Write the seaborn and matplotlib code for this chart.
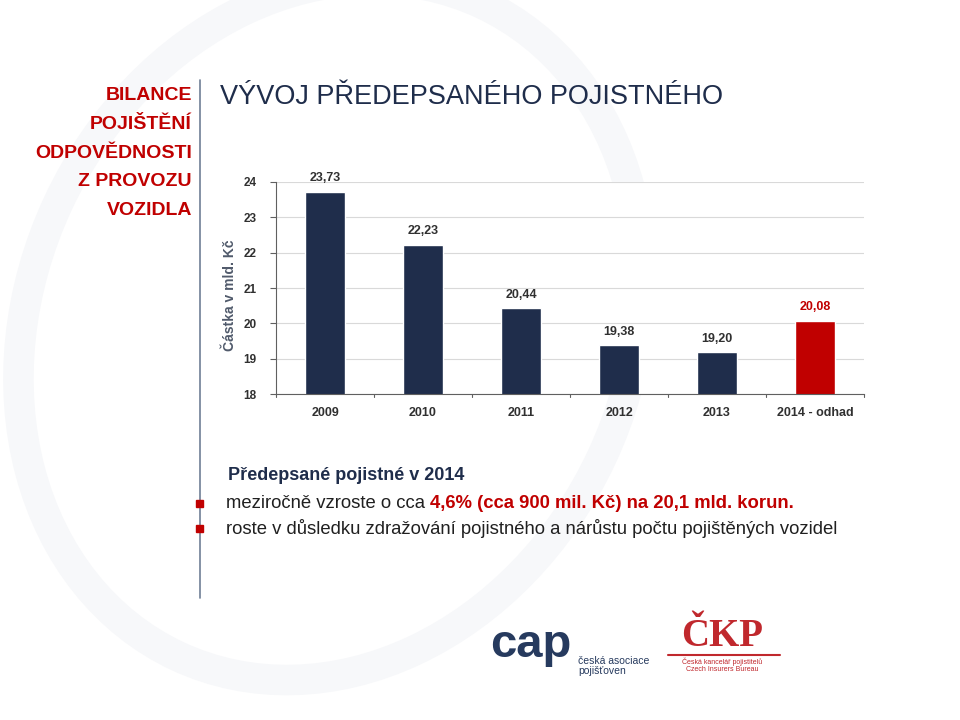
import matplotlib
matplotlib.use("Agg")
import matplotlib.pyplot as plt
import seaborn as sns
import pandas as pd
from matplotlib.patches import Rectangle, Ellipse

categories = ["2009", "2010", "2011", "2012", "2013", "2014 - odhad"]
values = [23.73, 22.23, 20.44, 19.38, 19.20, 20.08]
value_labels = ["23,73", "22,23", "20,44", "19,38", "19,20", "20,08"]
bar_colors = ["#1f2d4b", "#1f2d4b", "#1f2d4b", "#1f2d4b", "#1f2d4b", "#c00000"]
y_ticks = [18, 19, 20, 21, 22, 23, 24]

sns.set_theme(style="white")
plt.rcParams['font.family'] = ['Liberation Sans', 'DejaVu Sans']

NAVY = "#1f2d4b"
RED = "#c00000"

fig = plt.figure(figsize=(9.6, 7.2), dpi=100)
W, H = 960, 720

def fx(x):
    return x / W

def fy(y):
    return 1 - y / H

# faint background swoosh
bg = fig.add_axes([0, 0, 1, 1], zorder=-5)
bg.set_xlim(0, W); bg.set_ylim(H, 0); bg.axis("off")
bg.add_patch(Ellipse((330, 330), 600, 720, angle=25, fill=False, lw=22, ec="#f7f8fa", zorder=-5))
bg.plot([200, 200], [80, 598], color="#6f7f96", lw=1.2, zorder=2)
bg.add_patch(Rectangle((196, 500), 7, 7, color=RED, zorder=4))
bg.add_patch(Rectangle((196, 525), 7, 7, color=RED, zorder=4))

# left red title
left_lines = ["BILANCE", "POJIŠTĚNÍ", "ODPOVĚDNOSTI", "Z PROVOZU", "VOZIDLA"]
for i, t in enumerate(left_lines):
    fig.text(fx(192), fy(96 + i * 28.5), t, ha="right", va="center", color=RED,
             fontsize=14, fontweight="bold")

fig.text(fx(220), fy(97), "VÝVOJ PŘEDEPSANÉHO POJISTNÉHO", ha="left", va="center",
         color=NAVY, fontsize=19.5)

# chart
ax = fig.add_axes([fx(276), fy(394), fx(864 - 276), (394 - 182) / H])
df = pd.DataFrame({"rok": categories, "hodnota": values})
sns.barplot(data=df, x="rok", y="hodnota", hue="rok", palette=bar_colors,
            legend=False, width=0.4, ax=ax, saturation=1)
ax.set_ylim(18, 24)
ax.set_xlim(-0.5, len(categories) - 0.5)
ax.set_yticks(y_ticks)
ax.set_yticklabels([str(v) for v in y_ticks], fontsize=8.5, fontweight="bold", color="#303030")
ax.set_xticks(range(len(categories)))
ax.set_xticklabels(categories, fontsize=9, fontweight="bold", color="#303030")
ax.tick_params(axis="x", length=0, pad=9)
ax.tick_params(axis="y", length=4, width=0.8, color="#606060", pad=10, left=True)
for b in [i + 0.5 for i in range(-1, len(categories))]:
    ax.plot([b, b], [18, 17.92], color="#606060", lw=0.8, clip_on=False)
ax.grid(axis="y", color="#d9d9d9", lw=0.8)
ax.set_axisbelow(True)
for s in ["top", "right"]:
    ax.spines[s].set_visible(False)
ax.spines["left"].set_color("#606060")
ax.spines["bottom"].set_color("#606060")
ax.spines["left"].set_linewidth(0.8)
ax.spines["bottom"].set_linewidth(0.8)
ax.set_xlabel("")
ax.set_ylabel("")
for i, (v, lab) in enumerate(zip(values, value_labels)):
    ax.text(i, v + 0.2, lab, ha="center", va="bottom", fontsize=9, fontweight="bold",
            color=RED if i == len(values) - 1 else "#303030")

fig.text(fx(230), fy(295), "Částka v mld. Kč", rotation=90, ha="center", va="center",
         fontsize=10, fontweight="bold", color="#505a6b")

# bottom text
fig.text(fx(228), fy(476), "Předepsané pojistné v 2014", ha="left", va="center",
         fontsize=13, fontweight="bold", color=NAVY)
fig.canvas.draw()
r = fig.canvas.get_renderer()
t1 = fig.text(fx(226), fy(503), "meziročně vzroste o cca ", ha="left", va="center",
              fontsize=13.3, color="#202020")
bb = t1.get_window_extent(renderer=r)
fig.text(bb.x1 / W, fy(503), "4,6% (cca 900 mil. Kč) na 20,1 mld. korun.", ha="left",
         va="center", fontsize=13.3, fontweight="bold", color=RED)
fig.text(fx(226), fy(529), "roste v důsledku zdražování pojistného a nárůstu počtu pojištěných vozidel",
         ha="left", va="center", fontsize=13.3, color="#202020")

# logos (text approximations)
fig.text(fx(490), fy(645), "cap", ha="left", va="center", fontsize=34, color="#263a5e",
         fontweight="bold")
fig.text(fx(578), fy(666), "česká asociace\npojišťoven", ha="left", va="center",
         fontsize=7.5, color="#263a5e", linespacing=1.0)
fig.text(fx(722), fy(637), "ČKP", ha="center", va="center", fontsize=28,
         family=["Liberation Serif", "DejaVu Serif"], fontweight="bold", color="#c0282d")
bg.plot([668, 780], [655, 655], color="#c0282d", lw=1.5)
fig.text(fx(722), fy(665), "Česká kancelář pojistitelů\nCzech Insurers Bureau", ha="center",
         va="center", fontsize=5, color="#c0282d", linespacing=1.0)

fig.savefig("out.png", dpi=100)
